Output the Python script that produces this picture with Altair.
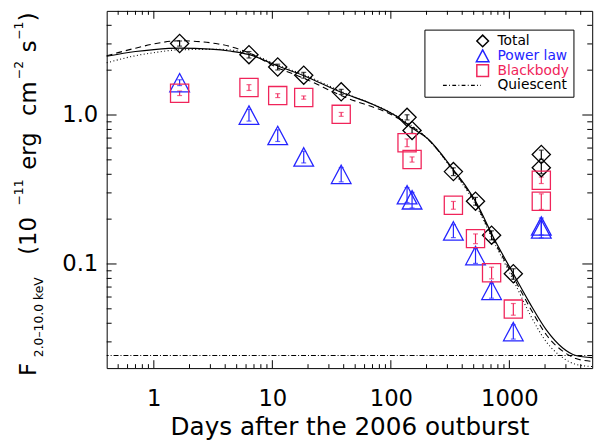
import altair as alt
import pandas as pd

# ---------------- values ----------------
SERIES = ["Total", "Power law", "Blackbody", "Quiescent"]

DAYS = [1.65, 6.35, 11.1, 18.4, 38.1, 137, 151, 337, 518, 708, 1080, 1860, 1860]
TOTAL = [3.02, 2.54, 2.10, 1.85, 1.43, 0.965, 0.788, 0.417, 0.264, 0.156, 0.086, 0.543, 0.443]
TOTAL_ERR = [0.04, 0.05, 0.045, 0.045, 0.04, 0.04, 0.045, 0.06, 0.06, 0.07, 0.08, 0.07, 0.09]
POWERLAW = [1.65, 1.00, 0.73, 0.524, 0.40, 0.292, 0.270, 0.167, 0.114, 0.0666, 0.0352, 0.180, 0.172]
POWERLAW_ERR = [0.045, 0.09, 0.09, 0.09, 0.11, 0.115, 0.12, 0.10, 0.115, 0.115, 0.11, 0.13, 0.13]
BLACKBODY = [1.40, 1.53, 1.35, 1.31, 1.01, 0.652, 0.503, 0.248, 0.148, 0.0873, 0.0498, 0.365, 0.264]
BLACKBODY_ERR = [0.035, 0.045, 0.03, 0.025, 0.03, 0.06, 0.04, 0.06, 0.075, 0.09, 0.09, 0.05, 0.12]
QUIESCENT = 0.0243

SOLID_X = [0.4, 0.7, 1.0, 1.65, 3.0, 4.5, 6.3, 11, 18, 38, 70, 115, 150, 205, 340, 440, 520, 736, 1080, 1490, 2050, 2820, 3640, 5000]
SOLID_Y = [2.48, 2.67, 2.75, 2.81, 2.77, 2.68, 2.55, 2.14, 1.85, 1.42, 1.18, 0.965, 0.82, 0.693, 0.425, 0.323, 0.262, 0.150, 0.086, 0.0544, 0.0361, 0.0273, 0.0243, 0.0235]
DASH_X = [0.4, 0.7, 1.0, 1.65, 3.5, 6.3, 11, 18, 38, 115, 205, 340, 520, 736, 1080, 1490, 2050, 2820, 3640, 5000]
DASH_Y = [2.50, 2.81, 3.00, 3.15, 3.00, 2.62, 2.08, 1.78, 1.35, 0.95, 0.69, 0.42, 0.255, 0.146, 0.082, 0.051, 0.0335, 0.026, 0.0232, 0.0222]
DOT_X = [0.4, 0.7, 1.0, 1.65, 3.5, 6.3, 11, 18, 38, 115, 205, 340, 520, 736, 1080, 1490, 2050, 2820, 3640, 5000]
DOT_Y = [2.24, 2.50, 2.62, 2.74, 2.76, 2.60, 2.17, 1.88, 1.44, 0.97, 0.69, 0.415, 0.25, 0.142, 0.078, 0.046, 0.030, 0.0235, 0.0212, 0.0205]

X_MAJOR = [1, 10, 100, 1000]
X_MINOR = [0.5, 0.6, 0.7, 0.8, 0.9, 2, 3, 4, 5, 6, 7, 8, 9,
           20, 30, 40, 50, 60, 70, 80, 90, 200, 300, 400, 500, 600, 700, 800, 900,
           2000, 3000, 4000]
Y_MAJOR = [0.1, 1]
Y_MAJOR_LABELS = ["0.1", "1.0"]
Y_MINOR = [0.03, 0.04, 0.05, 0.06, 0.07, 0.08, 0.09,
           0.2, 0.3, 0.4, 0.5, 0.6, 0.7, 0.8, 0.9, 2, 3, 4]

# ---------------- styling ----------------
FONT = "DejaVu Sans"
BLUE = "#2424ff"
RED = "#f0245a"
COLORS = ["black", BLUE, RED, "black"]
W, H = 492, 362

# legend symbol for the quiescent dash-dot line (extends to the left of the symbol centre)
segs = []
pos = -6.8
pattern = [0.65, 0.4, 0.15, 0.4]
k = 0
while pos < -0.3:
    ln = pattern[k % 4]
    end = min(pos + ln, -0.3)
    if k % 2 == 0:
        segs.append(f"M{pos:.2f},0H{end:.2f}")
    pos = end
    k += 1
QUIES_PATH = "".join(segs)
TRI_PATH = "M0,-1L1.08,1.02L-1.08,1.02Z"
SHAPES = ["diamond", TRI_PATH, "square", QUIES_PATH]

XS = alt.Scale(type="log", domain=[0.4, 5000], nice=False)
YS = alt.Scale(type="log", domain=[0.02, 5], nice=False)

common = dict(grid=False, domain=False, ticks=False, labelColor="black", labelFont=FONT,
              labelFlush=False, labelOverlap=False)

ylab_expr = " : ".join(
    [f"abs(datum.value-{v})<1e-9 ? '{t}'" for v, t in zip(Y_MAJOR, Y_MAJOR_LABELS)]) + " : ''"

ax_bottom = alt.Axis(orient="bottom", values=X_MAJOR,
                     labelExpr="format(datum.value, 'd')",
                     labelFontSize=23, labelPadding=20, labelBaseline="top",
                     title="Days after the 2006 outburst", titleFont=FONT,
                     titleFontSize=25, titleFontWeight="normal", titleColor="black",
                     titlePadding=4, **common)
ax_left = alt.Axis(orient="left", values=Y_MAJOR, labelExpr=ylab_expr, labelFontSize=23,
                   labelPadding=9, labelBaseline="middle", title=None, **common)

# ---------------- data tables ----------------
rows = []
err = {}
for name, vals, fr in [("Total", TOTAL, TOTAL_ERR), ("Power law", POWERLAW, POWERLAW_ERR),
                       ("Blackbody", BLACKBODY, BLACKBODY_ERR)]:
    sub = []
    for d, v, f in zip(DAYS, vals, fr):
        rows.append({"series": name, "day": d, "flux": v})
        sub.append({"day": d, "lo": v * (1 - f), "hi": v * (1 + f)})
    err[name] = pd.DataFrame(sub)
pts_df = pd.DataFrame(rows)

legend = alt.Legend(title=None, orient="none", legendX=322, legendY=19, strokeColor="black",
                    fillColor="white", padding=4, labelFont=FONT, labelFontSize=14,
                    labelColor={"expr": f"datum.label == 'Power law' ? '{BLUE}' : (datum.label == 'Blackbody' ? '{RED}' : 'black')"},
                    symbolSize=140, symbolStrokeWidth=1.5, rowPadding=0, clipHeight=15,
                    symbolOffset=48, labelOffset=8, cornerRadius=0)

points = alt.Chart(pts_df).mark_point(filled=False, size=340, strokeWidth=1.3, opacity=1).encode(
    x=alt.X("day:Q", scale=XS, axis=None),
    y=alt.Y("flux:Q", scale=YS, axis=None),
    shape=alt.Shape("series:N", scale=alt.Scale(domain=SERIES, range=SHAPES), legend=legend),
    color=alt.Color("series:N", scale=alt.Scale(domain=SERIES, range=COLORS), legend=legend),
)

err_layers = []
for name, col in [("Total", "black"), ("Power law", BLUE), ("Blackbody", RED)]:
    base = alt.Chart(err[name])
    err_layers.append(base.mark_rule(color=col, strokeWidth=1.2).encode(
        x=alt.X("day:Q", scale=XS, axis=None),
        y=alt.Y("lo:Q", scale=YS, axis=None), y2="hi:Q"))
    for f in ["lo", "hi"]:
        err_layers.append(base.mark_tick(color=col, orient="horizontal", size=5, thickness=1.2).encode(
            x=alt.X("day:Q", scale=XS, axis=None),
            y=alt.Y(f"{f}:Q", scale=YS, axis=None)))

solid = alt.Chart(pd.DataFrame({"day": SOLID_X, "flux": SOLID_Y})).mark_line(
    color="black", strokeWidth=1.2, interpolate="monotone").encode(
    x=alt.X("day:Q", scale=XS, axis=ax_bottom),
    y=alt.Y("flux:Q", scale=YS, axis=ax_left))
dashed = alt.Chart(pd.DataFrame({"day": DASH_X, "flux": DASH_Y})).mark_line(
    color="black", strokeWidth=1.1, strokeDash=[6, 4], interpolate="monotone").encode(
    x=alt.X("day:Q", scale=XS, axis=None),
    y=alt.Y("flux:Q", scale=YS, axis=None))
dotted = alt.Chart(pd.DataFrame({"day": DOT_X, "flux": DOT_Y})).mark_line(
    color="black", strokeWidth=1.1, strokeDash=[1, 2.5], interpolate="monotone").encode(
    x=alt.X("day:Q", scale=XS, axis=None),
    y=alt.Y("flux:Q", scale=YS, axis=None))
quies = alt.Chart(pd.DataFrame({"q": [QUIESCENT]})).mark_rule(
    color="black", strokeWidth=1.1, strokeDash=[5, 2, 1, 2]).encode(
    y=alt.Y("q:Q", scale=YS, axis=None))

# ---------------- inward ticks on all four sides ----------------
tick_layers = []
for vals, ln in [(X_MAJOR, 8), (X_MINOR, 4)]:
    tdf = pd.DataFrame({"v": vals})
    xenc = alt.X("v:Q", scale=XS, axis=None)
    tick_layers.append(alt.Chart(tdf).mark_rule(color="black", strokeWidth=1).encode(
        x=xenc, y=alt.value(H), y2=alt.value(H - ln)))
    tick_layers.append(alt.Chart(tdf).mark_rule(color="black", strokeWidth=1).encode(
        x=xenc, y=alt.value(0), y2=alt.value(ln)))
for vals, ln in [(Y_MAJOR, 10), (Y_MINOR, 5)]:
    tdf = pd.DataFrame({"v": vals})
    yenc = alt.Y("v:Q", scale=YS, axis=None)
    tick_layers.append(alt.Chart(tdf).mark_rule(color="black", strokeWidth=1).encode(
        y=yenc, x=alt.value(0), x2=alt.value(ln)))
    tick_layers.append(alt.Chart(tdf).mark_rule(color="black", strokeWidth=1).encode(
        y=yenc, x=alt.value(W), x2=alt.value(W - ln)))

# ---------------- rotated y-axis title with sub/superscripts ----------------
MAIN_X, SUB_X, SUP_X = -72, -65, -85
TITLE_SEGS = [
    ("F", 23, MAIN_X, 371.5),
    ("2.0\u201310.0 keV", 12.5, SUB_X, 318.5),
    ("(10", 23, MAIN_X, 236),
    ("\u221211", 12.5, SUP_X, 192),
    ("erg", 23, MAIN_X, 150),
    ("cm", 23, MAIN_X, 97),
    ("\u22122", 12.5, SUP_X, 68),
    ("s", 23, MAIN_X, 44),
    ("\u22121", 12.5, SUP_X, 28),
    (")", 23, MAIN_X, 14),
]
title_layers = []
for txt, fs, px, cy in TITLE_SEGS:
    title_layers.append(
        alt.Chart(pd.DataFrame({"t": [txt]})).mark_text(
            angle=270, align="center", baseline="alphabetic", font=FONT,
            fontSize=fs, color="black").encode(
            text="t:N", x=alt.value(px), y=alt.value(cy - 8)))

chart = alt.layer(quies, solid, dashed, dotted, *tick_layers, *err_layers, points,
                  *title_layers).resolve_axis(
    x="independent", y="independent"
).properties(
    width=W, height=H, autosize="none",
    padding={"left": 100, "top": 0, "right": 15, "bottom": 75},
).configure_view(stroke="black", strokeWidth=1)

chart.save("out.html", embed_options={"renderer": "svg", "actions": False})
